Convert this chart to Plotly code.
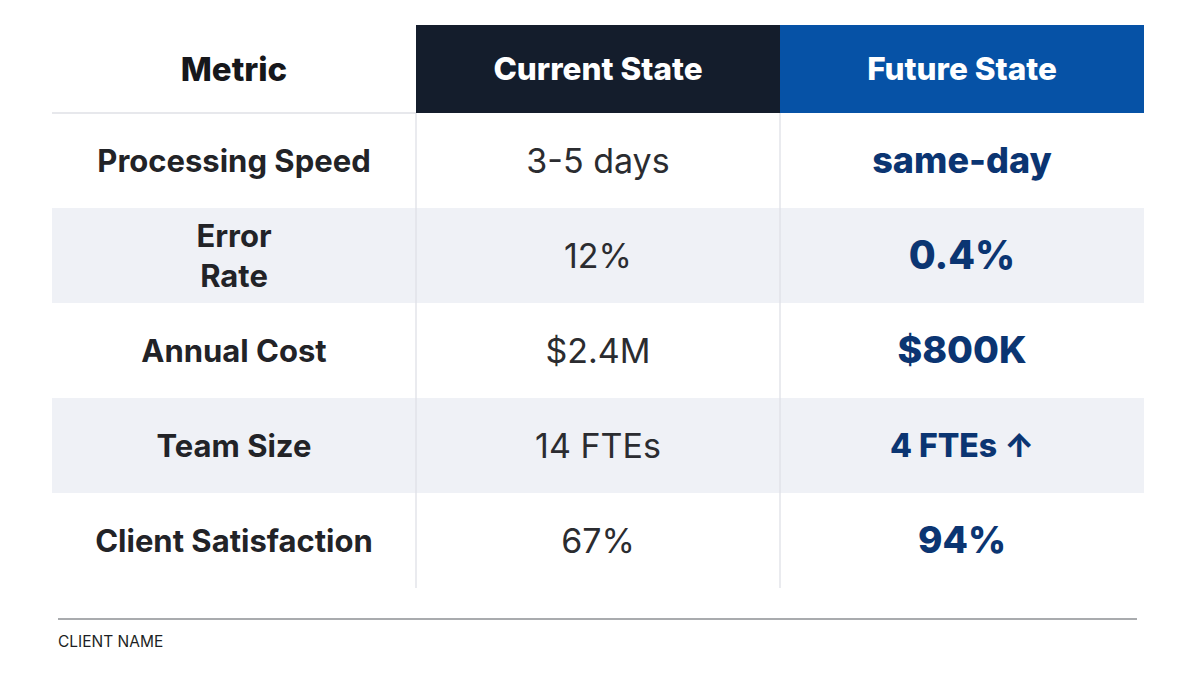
import plotly.graph_objects as go

headers = ["Metric", "Current State", "Future State"]
metrics = ["Processing Speed", "Error<br>Rate", "Annual Cost", "Team Size", "Client Satisfaction"]
current_state = ["3-5 days", "12%", "$2.4M", "14 FTEs", "67%"]
future_state = ["same-day", "0.4%", "$800K", "4 FTEs ↑", "94%"]
footer_label = "CLIENT NAME"

# ---- styling / layout (pixels in the 1196x673 frame) ----
W, H = 1196, 673
OFF = 8  # page body margin of the browser
left, right, top, bottom = 52 - OFF, 1144 - OFF, 25 - OFF, 588 - OFF
header_h, row_h = 88, 95
TEXT_DY = 3.5  # optical vertical centring of text
FONT = "Inter"

C_WHITE, C_ALT, C_DARK, C_BLUE = "#ffffff", "#eff1f6", "#141d2c", "#0652a6"
header_codes = [0, 2, 3]          # fill code per header cell
row_codes = [0, 1, 0, 1, 0]       # alternating body fill
header_font_color = ["#16171b", "#ffffff", "#ffffff"]
header_sizes = [33, 31.5, 31.5]
future_sizes = [36, 39, 37.5, 32, 37]

n = len(metrics)
y_edges = [0, header_h] + [header_h + row_h * (i + 1) for i in range(n)]
y_centers = [(y_edges[i] + y_edges[i + 1]) / 2 + TEXT_DY for i in range(n + 1)]
x_centers = [0.5, 1.5, 2.5]

z = [header_codes] + [[c, c, c] for c in row_codes]

fig = go.Figure()
fig.add_trace(go.Heatmap(
    x=[0, 1, 2, 3], y=y_edges, z=z,
    zmin=0, zmax=3,
    colorscale=[[0, C_WHITE], [1 / 3, C_ALT], [2 / 3, C_DARK], [1, C_BLUE]],
    showscale=False, hoverinfo="skip",
))

# header texts
fig.add_trace(go.Scatter(
    x=x_centers, y=[y_centers[0]] * 3, text=headers, mode="text",
    textposition="middle center", hoverinfo="skip",
    textfont=dict(family=FONT, size=header_sizes, color=header_font_color, weight=800),
))
# metric column
fig.add_trace(go.Scatter(
    x=[x_centers[0]] * n, y=y_centers[1:], text=metrics, mode="text",
    textposition="middle center", hoverinfo="skip",
    textfont=dict(family=FONT, size=31, color="#222327", weight=700),
))
# current state column
fig.add_trace(go.Scatter(
    x=[x_centers[1]] * n, y=y_centers[1:], text=current_state, mode="text",
    textposition="middle center", hoverinfo="skip",
    textfont=dict(family=FONT, size=34, color="#2b2c30", weight=400),
))
# future state column
fig.add_trace(go.Scatter(
    x=[x_centers[2]] * n, y=y_centers[1:], text=future_state, mode="text",
    textposition="middle center", hoverinfo="skip",
    textfont=dict(family=FONT, size=future_sizes, color="#0b3572", weight=800),
))

sep = dict(color="#dfe1e6", width=1.3)
shapes = [
    dict(type="line", xref="x", yref="y", x0=0, x1=1, y0=header_h, y1=header_h, line=sep),
    dict(type="line", xref="x", yref="y", x0=1, x1=1, y0=header_h, y1=y_edges[-1], line=sep),
    dict(type="line", xref="x", yref="y", x0=2, x1=2, y0=header_h, y1=y_edges[-1], line=sep),
    dict(type="line", xref="paper", yref="paper",
         x0=(58 - OFF) / W, x1=(1137 - OFF) / W,
         y0=1 - (619 - OFF) / H, y1=1 - (619 - OFF) / H,
         line=dict(color="#a9abae", width=2)),
]

fig.update_layout(
    width=W, height=H,
    margin=dict(l=0, r=0, t=0, b=0),
    paper_bgcolor="#ffffff", plot_bgcolor="#ffffff",
    showlegend=False,
    xaxis=dict(domain=[left / W, right / W], range=[0, 3], visible=False, fixedrange=True),
    yaxis=dict(domain=[1 - bottom / H, 1 - top / H], range=[y_edges[-1], 0],
               visible=False, fixedrange=True),
    shapes=shapes,
    annotations=[dict(text=footer_label, xref="paper", yref="paper",
                      x=(56 - OFF) / W, y=1 - (641 - OFF) / H,
                      xanchor="left", yanchor="middle", showarrow=False,
                      font=dict(family=FONT, size=15.5, color="#1d1f24"))],
)

fig.write_html("out.html", config={"displayModeBar": False})
